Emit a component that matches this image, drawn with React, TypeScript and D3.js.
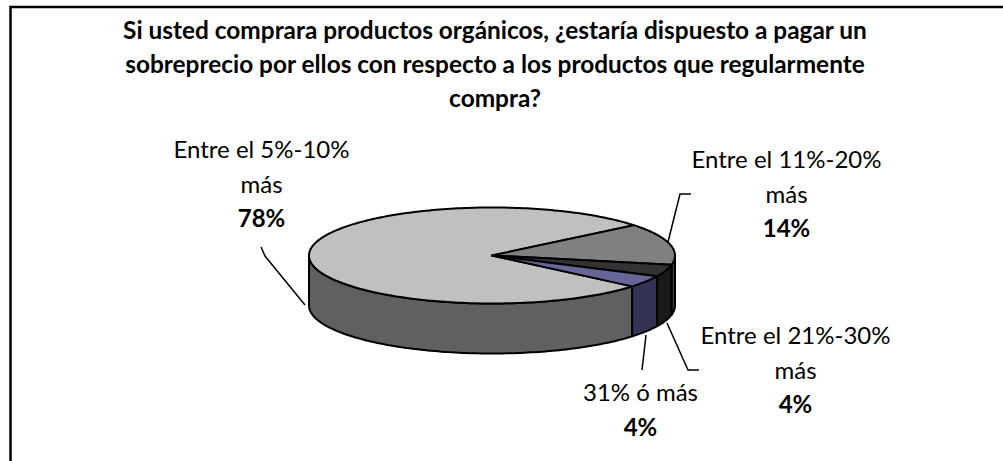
import React from 'react';
import * as d3 from 'd3';

const categories = ['Entre el 5%-10% más', 'Entre el 11%-20% más', 'Entre el 21%-30% más', '31% ó más'];
const values = [78, 14, 4, 4];
const percentLabels = ['78%', '14%', '4%', '4%'];
const topColors = ['#c0c0c0', '#808080', '#333333', '#666699'];
const sideColors = ['#606060', '#404040', '#1a1a1a', '#333355'];
const titleLines = [
  'Si usted comprara productos orgánicos, ¿estaría dispuesto a pagar un',
  'sobreprecio por ellos con respecto a los productos que regularmente',
  'compra?',
];
const labelLines = [['Entre el 5%-10%', 'más'], ['Entre el 11%-20%', 'más'], ['Entre el 21%-30%', 'más'], ['31% ó más']];
const labelPos = [[261.5, 158], [786.5, 168], [795.5, 344], [640.5, 401]];
const labelStep = 34.5;

const cx = 492, cy = 255.5, rx = 183, ry = 48, depth = 50;
const font = 'Lato, Carlito, sans-serif';

const pie = d3.pie<number>().sort(null)
  .startAngle((130 * Math.PI) / 180)
  .endAngle((490 * Math.PI) / 180);
const arcs = pie(values);

const px = (a: number) => cx + rx * Math.sin(a);
const py = (a: number) => cy - ry * Math.cos(a);
const line = d3.line<[number, number]>();

function ellipseArc(a0: number, a1: number): [number, number][] {
  const n = Math.max(2, Math.ceil(Math.abs(a1 - a0) / 0.02));
  return d3.range(n + 1).map((i) => {
    const a = a0 + ((a1 - a0) * i) / n;
    return [px(a), py(a)] as [number, number];
  });
}

function topPath(a0: number, a1: number) {
  return line([[cx, cy], ...ellipseArc(a0, a1), [cx, cy]]) + 'Z';
}

function sidePath(a0: number, a1: number) {
  const twoPi = Math.PI * 2;
  const segs: [number, number][] = [];
  for (const shift of [0, twoPi]) {
    const s = Math.max(a0, Math.PI / 2 + shift);
    const e = Math.min(a1, (3 * Math.PI) / 2 + shift);
    if (e > s) segs.push([s, e]);
  }
  return segs.map(([s, e]) => {
    const upper = ellipseArc(s, e);
    const lower = upper.map(([x, y]) => [x, y + depth] as [number, number]).reverse();
    return line([...upper, ...lower]) + 'Z';
  }).join('');
}

const leaders = [
  [[261, 247], [265, 256], [305, 305]],
  [[668, 242], [680, 194], [691, 194]],
  [[667, 323], [688, 370], [699, 370]],
  [[646, 335], [642, 370]],
];

export default function App() {
  return (
    <svg width={1003} height={461} style={{ position: 'absolute', left: 0, top: 0, background: '#fff' }}>
      <path d="M10.5 461V7H1003" fill="none" stroke="#000" strokeWidth={2.5} />
      <text textAnchor="middle" fontFamily={font} fontWeight={700} fontSize={24.4} fill="#000">
        {titleLines.map((t, i) => (
          <tspan key={i} x={495} y={39 + i * 34}>{t}</tspan>
        ))}
      </text>
      <g stroke="#000" strokeWidth={2} strokeLinejoin="round">
        {arcs.map((d, i) => (
          <path key={'s' + i} d={sidePath(d.startAngle, d.endAngle)} fill={sideColors[i]} />
        ))}
        {arcs.map((d, i) => (
          <path key={'t' + i} d={topPath(d.startAngle, d.endAngle)} fill={topColors[i]} />
        ))}
      </g>
      <g fill="none" stroke="#000" strokeWidth={1.5}>
        {leaders.map((l, i) => <path key={i} d={line(l as [number, number][]) || ''} />)}
      </g>
      {categories.map((c, i) => (
        <text key={c} textAnchor="middle" fontFamily={font} fontSize={24} fill="#000" aria-label={c}>
          {labelLines[i].map((t, j) => (
            <tspan key={j} x={labelPos[i][0]} y={labelPos[i][1] + j * labelStep}>{t}</tspan>
          ))}
          <tspan x={labelPos[i][0]} y={labelPos[i][1] + labelLines[i].length * labelStep} fontWeight={700}>{percentLabels[i]}</tspan>
        </text>
      ))}
    </svg>
  );
}
